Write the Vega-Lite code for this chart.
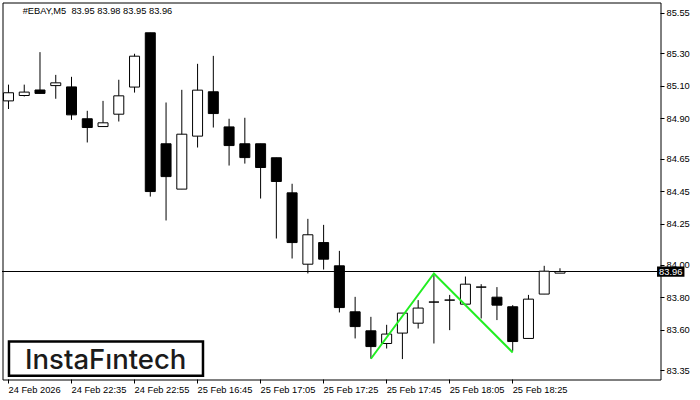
{
  "$schema": "https://vega.github.io/schema/vega-lite/v6.json",
  "width": 658,
  "height": 377,
  "autosize": {"type": "none"},
  "padding": {"left": 2.5, "top": 2.5, "right": 39.5, "bottom": 20.5},
  "background": "white",
  "config": {
    "view": {"stroke": "black", "strokeWidth": 1},
    "axis": {"translate": 0, "grid": false, "domain": false, "tickColor": "black", "labelColor": "black", "labelFont": "Liberation Sans", "labelFontSize": 9.3, "tickSize": 4, "labelPadding": 2, "title": null, "labelFlush": false, "labelOverlap": false}
  },
  "datasets": {
    "candles": [
      {"i": 0, "time": "24 Feb 22:15", "o": 85.01, "h": 85.11, "l": 84.96, "c": 85.06},
      {"i": 1, "time": "24 Feb 22:20", "o": 85.043, "h": 85.11, "l": 85.037, "c": 85.064},
      {"i": 2, "time": "24 Feb 22:25", "o": 85.077, "h": 85.31, "l": 85.055, "c": 85.056},
      {"i": 3, "time": "24 Feb 22:30", "o": 85.104, "h": 85.17, "l": 85.023, "c": 85.121},
      {"i": 4, "time": "24 Feb 22:35", "o": 85.096, "h": 85.158, "l": 84.893, "c": 84.924},
      {"i": 5, "time": "24 Feb 22:40", "o": 84.9, "h": 84.949, "l": 84.754, "c": 84.846},
      {"i": 6, "time": "24 Feb 22:45", "o": 84.852, "h": 85.01, "l": 84.852, "c": 84.875},
      {"i": 7, "time": "24 Feb 22:50", "o": 84.928, "h": 85.14, "l": 84.883, "c": 85.041},
      {"i": 8, "time": "24 Feb 22:55", "o": 85.095, "h": 85.3, "l": 85.061, "c": 85.285},
      {"i": 9, "time": "24 Feb 23:00", "o": 85.429, "h": 85.429, "l": 84.421, "c": 84.452},
      {"i": 10, "time": "24 Feb 23:05", "o": 84.746, "h": 85.0, "l": 84.274, "c": 84.544},
      {"i": 11, "time": "24 Feb 23:10", "o": 84.467, "h": 85.078, "l": 84.467, "c": 84.805},
      {"i": 12, "time": "25 Feb 16:45", "o": 84.793, "h": 85.238, "l": 84.723, "c": 85.076},
      {"i": 13, "time": "25 Feb 16:50", "o": 85.066, "h": 85.287, "l": 84.846, "c": 84.932},
      {"i": 14, "time": "25 Feb 16:55", "o": 84.85, "h": 84.9, "l": 84.612, "c": 84.735},
      {"i": 15, "time": "25 Feb 17:00", "o": 84.746, "h": 84.906, "l": 84.624, "c": 84.661},
      {"i": 16, "time": "25 Feb 17:05", "o": 84.746, "h": 84.746, "l": 84.409, "c": 84.6},
      {"i": 17, "time": "25 Feb 17:10", "o": 84.66, "h": 84.66, "l": 84.163, "c": 84.514},
      {"i": 18, "time": "25 Feb 17:15", "o": 84.444, "h": 84.5, "l": 84.04, "c": 84.138},
      {"i": 19, "time": "25 Feb 17:20", "o": 84.005, "h": 84.284, "l": 83.948, "c": 84.186},
      {"i": 20, "time": "25 Feb 17:25", "o": 84.138, "h": 84.247, "l": 83.972, "c": 84.036},
      {"i": 21, "time": "25 Feb 17:30", "o": 83.995, "h": 84.087, "l": 83.708, "c": 83.738},
      {"i": 22, "time": "25 Feb 17:35", "o": 83.712, "h": 83.804, "l": 83.548, "c": 83.621},
      {"i": 23, "time": "25 Feb 17:40", "o": 83.595, "h": 83.681, "l": 83.424, "c": 83.498},
      {"i": 24, "time": "25 Feb 17:45", "o": 83.517, "h": 83.632, "l": 83.486, "c": 83.575},
      {"i": 25, "time": "25 Feb 17:50", "o": 83.581, "h": 83.704, "l": 83.421, "c": 83.704},
      {"i": 26, "time": "25 Feb 17:55", "o": 83.642, "h": 83.784, "l": 83.609, "c": 83.735},
      {"i": 27, "time": "25 Feb 18:00", "o": 83.772, "h": 83.95, "l": 83.517, "c": 83.772},
      {"i": 28, "time": "25 Feb 18:05", "o": 83.784, "h": 83.816, "l": 83.599, "c": 83.784},
      {"i": 29, "time": "25 Feb 18:10", "o": 83.759, "h": 83.929, "l": 83.759, "c": 83.882},
      {"i": 30, "time": "25 Feb 18:15", "o": 83.864, "h": 83.882, "l": 83.671, "c": 83.864},
      {"i": 31, "time": "25 Feb 18:20", "o": 83.802, "h": 83.864, "l": 83.661, "c": 83.753},
      {"i": 32, "time": "25 Feb 18:25", "o": 83.743, "h": 83.753, "l": 83.472, "c": 83.529},
      {"i": 33, "time": "25 Feb 18:30", "o": 83.548, "h": 83.816, "l": 83.548, "c": 83.79},
      {"i": 34, "time": "25 Feb 18:35", "o": 83.821, "h": 83.995, "l": 83.821, "c": 83.962},
      {"i": 35, "time": "25 Feb 18:40", "o": 83.95, "h": 83.98, "l": 83.95, "c": 83.96}
    ],
    "pattern": [
      {"i": 23, "p": 83.423},
      {"i": 27, "p": 83.948},
      {"i": 32, "p": 83.462}
    ]
  },
  "layer": [
    {
      "data": {"name": "candles"},
      "mark": {"type": "rule", "color": "black", "strokeWidth": 1, "clip": true},
      "encoding": {
        "x": {"field": "i", "type": "quantitative", "scale": {"domain": [-0.0625, 41.0625], "nice": false, "zero": false},
          "axis": {"values": [0, 4, 8, 12, 16, 20, 24, 28, 32], "tickCount": 40, "labelAlign": "left", "labelBaseline": "top", "labelOverlap": false,
            "labelExpr": "['24 Feb 2026','24 Feb 22:35','24 Feb 22:55','25 Feb 16:45','25 Feb 17:05','25 Feb 17:25','25 Feb 17:45','25 Feb 18:05','25 Feb 18:25'][round(datum.value/4)]"}},
        "y": {"field": "l", "type": "quantitative", "scale": {"domain": [83.2954, 85.6154], "nice": false, "zero": false},
          "axis": {"orient": "right", "values": [83.35, 83.6, 83.8, 84.0, 84.25, 84.45, 84.65, 84.9, 85.1, 85.3, 85.55], "tickCount": 40, "format": ".2f", "labelBaseline": "middle", "labelOverlap": false}},
        "y2": {"field": "h"}
      }
    },
    {
      "data": {"name": "candles"},
      "mark": {"type": "rule", "color": "black", "strokeWidth": 1},
      "encoding": {"y": {"datum": 83.96}}
    },
    {
      "data": {"name": "candles"},
      "mark": {"type": "bar", "width": 10, "stroke": "black", "strokeWidth": 1, "clip": true},
      "encoding": {
        "x": {"field": "i", "type": "quantitative"},
        "y": {"field": "o", "type": "quantitative"},
        "y2": {"field": "c"},
        "fill": {"condition": {"test": "datum.c >= datum.o", "value": "white"}, "value": "black"}
      }
    },
    {
      "data": {"name": "pattern"},
      "mark": {"type": "line", "color": "#22ee22", "strokeWidth": 2},
      "encoding": {
        "x": {"field": "i", "type": "quantitative"},
        "y": {"field": "p", "type": "quantitative"}
      }
    },
    {
      "data": {"values": [{"label": "#EBAY,M5\u00a0 83.95 83.98 83.95 83.96"}]},
      "mark": {"type": "text", "align": "left", "baseline": "middle", "font": "Liberation Sans", "fontSize": 9.3, "color": "black"},
      "encoding": {"x": {"datum": 0.9}, "y": {"datum": 85.564}, "text": {"field": "label"}}
    },
    {
      "data": {"values": [{"label": "InstaFıntech"}]},
      "mark": {"type": "rect", "fill": "white", "stroke": "black", "strokeWidth": 2.5},
      "encoding": {"x": {"datum": 0.031}, "x2": {"datum": 12.344}, "y": {"datum": 83.53}, "y2": {"datum": 83.318}}
    },
    {
      "data": {"values": [{"label": "InstaFıntech"}]},
      "mark": {"type": "text", "align": "center", "baseline": "alphabetic", "font": "Inter", "fontSize": 27.5, "fontWeight": 500, "color": "#1b1b1b"},
      "encoding": {"x": {"datum": 6.17}, "y": {"datum": 83.359}, "text": {"field": "label"}}
    },
    {
      "data": {"values": [{"label": "83.96"}]},
      "mark": {"type": "rect", "fill": "black", "clip": false},
      "encoding": {"x": {"datum": 41.16}, "x2": {"datum": 42.9}, "y": {"datum": 83.991}, "y2": {"datum": 83.928}}
    },
    {
      "data": {"values": [{"label": "83.96"}]},
      "mark": {"type": "text", "align": "center", "baseline": "middle", "font": "Liberation Sans", "fontSize": 9.3, "color": "white", "clip": false},
      "encoding": {"x": {"datum": 42.03}, "y": {"datum": 83.959}, "text": {"field": "label"}}
    }
  ]
}
